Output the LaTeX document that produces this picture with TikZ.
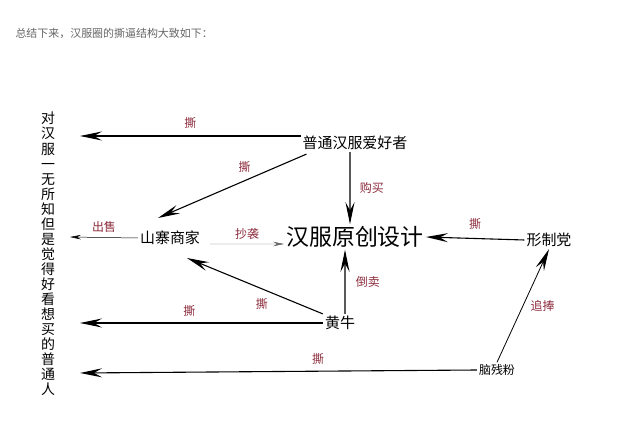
\documentclass[tikz,border=0pt]{standalone}
\usepackage{fontspec}
\setmainfont{Noto Sans CJK SC}
\usetikzlibrary{arrows.meta}
\definecolor{lab}{HTML}{8B2A3A}
\tikzset{x=1bp,y=-1bp,
 big/.style={-{Stealth[length=22bp,width=9bp,inset=8bp]},line width=1.1pt},
 thin/.style={-{Stealth[length=11bp,width=4.5bp,inset=4bp]},line width=0.5pt},
 lbl/.style={text=lab,font=\fontsize{12}{14}\selectfont},
 nd/.style={inner sep=2pt,font=\fontsize{15}{18}\selectfont}}
\begin{document}
\begin{tikzpicture}
\useasboundingbox (0,0) rectangle (640,433);
\node[anchor=west,text=black!60,font=\fontsize{11}{13}\selectfont] (t) at (12,33) {总结下来，汉服圈的撕逼结构大致如下：};
\node[font={\fontsize{14}{15.1}\selectfont\lineskiplimit=-100pt\relax},align=center,anchor=north,inner sep=0pt] (ppl) at (48,112) {对\\汉\\服\\一\\无\\所\\知\\但\\是\\觉\\得\\好\\看\\想\\买\\的\\普\\通\\人};
\node[nd] (pt) at (355,143) {普通汉服爱好者};
\node[nd,font=\fontsize{23}{26}\selectfont] (yc) at (355,237) {汉服原创设计};
\node[nd] (xz) at (549,240) {形制党};
\node[nd] (sz) at (170,238) {山寨商家};
\node[nd] (hn) at (340,323) {黄牛};
\node[nd,font=\fontsize{12}{14}\selectfont] (nc) at (497,370) {脑残粉};
\coordinate (l1) at (80,136);
\coordinate (l2) at (70,237);
\coordinate (l3) at (80,323);
\coordinate (l4) at (80,373);
\draw[big] (pt.west|-l1) -- (l1) node[lbl,midway,above=4bp] {撕};
\draw[big] (pt.south west)++(6,2) -- (158,218) node[lbl,pos=0.35,above left=0bp] {撕};
\draw[big] (pt.south)++(-5,0) -- ([xshift=-5bp]yc.north) node[lbl,midway,right=6bp] {购买};
\draw[big] (xz.west) -- (yc.east) node[lbl,midway,above=5bp] {撕};
\draw[thin] (sz.west) -- (l2) node[lbl,midway,above=1bp] {出售};
\draw[thin,black!60] ([yshift=-6bp]sz.east)++(8,0) -- ([yshift=-7bp]yc.west) node[lbl,midway,above=1bp] {抄袭};
\draw[big] (hn.north)++(5,0) -- ([xshift=-10bp]yc.south) node[lbl,midway,right=7bp] {倒卖};
\draw[big] (hn.north west) -- (187,258) node[lbl,pos=0.45,below=6bp] {撕};
\draw[big] (hn.west) -- (l3) node[lbl,pos=0.55,above=3bp] {撕};
\draw[big] (nc.west) -- (l4) node[lbl,pos=0.4,above=3bp] {撕};
\draw[big,line width=0.8pt] (nc.north) -- (xz.south) node[lbl,midway,right=4bp] {追捧};
\end{tikzpicture}
\end{document}
